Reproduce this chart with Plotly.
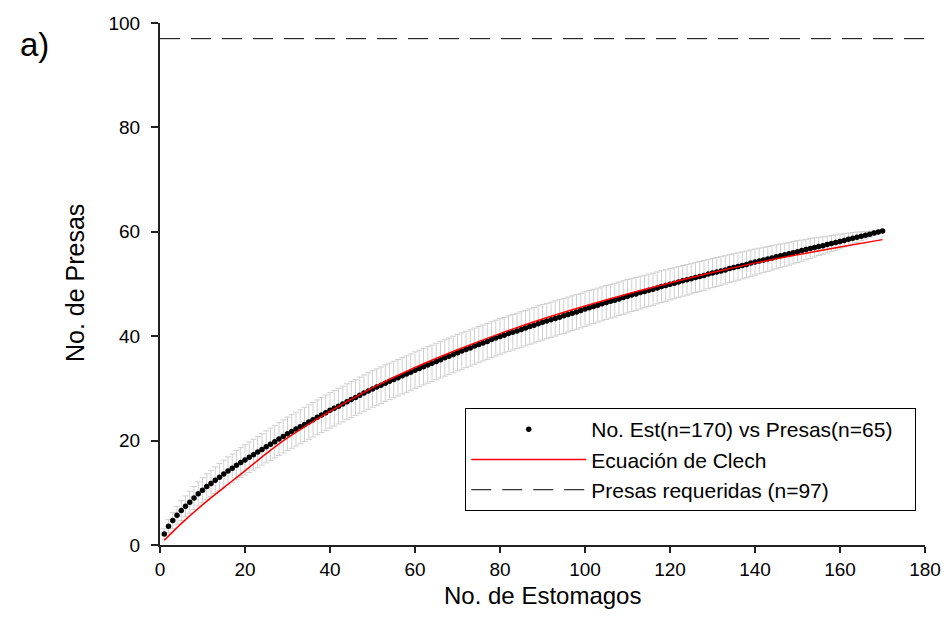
import plotly.graph_objects as go

# --- data ---
estomagos = list(range(1, 171))
presas_obs = [
    2.1, 3.6, 4.7, 5.7, 6.6, 7.4, 8.2, 9.0, 9.8, 10.5,
    11.2, 11.8, 12.4, 13.0, 13.6, 14.2, 14.7, 15.3, 15.8, 16.3,
    16.8, 17.3, 17.8, 18.3, 18.8, 19.3, 19.8, 20.3, 20.8, 21.3,
    21.75, 22.2, 22.65, 23.1, 23.55, 24.0, 24.45, 24.9, 25.35, 25.8,
    26.2, 26.6, 27.0, 27.45, 27.85, 28.25, 28.7, 29.1, 29.5, 29.9,
    30.25, 30.6, 31.0, 31.35, 31.7, 32.05, 32.4, 32.75, 33.1, 33.5,
    33.8, 34.15, 34.5, 34.8, 35.15, 35.5, 35.85, 36.15, 36.5, 36.85,
    37.15, 37.45, 37.75, 38.1, 38.4, 38.7, 39.0, 39.35, 39.65, 39.95,
    40.2, 40.5, 40.75, 41.0, 41.3, 41.55, 41.85, 42.1, 42.4, 42.65,
    42.9, 43.15, 43.4, 43.65, 43.9, 44.15, 44.4, 44.65, 44.9, 45.2,
    45.45, 45.7, 45.95, 46.2, 46.45, 46.7, 46.9, 47.15, 47.4, 47.65,
    47.9, 48.1, 48.35, 48.55, 48.8, 49.0, 49.25, 49.5, 49.7, 49.95,
    50.15, 50.4, 50.6, 50.8, 51.0, 51.25, 51.45, 51.65, 51.9, 52.1,
    52.3, 52.5, 52.7, 52.95, 53.15, 53.35, 53.55, 53.75, 54.0, 54.2,
    54.4, 54.6, 54.8, 55.0, 55.2, 55.4, 55.6, 55.8, 56.0, 56.2,
    56.4, 56.6, 56.8, 57.0, 57.2, 57.35, 57.55, 57.75, 57.95, 58.15,
    58.35, 58.55, 58.75, 58.95, 59.15, 59.35, 59.55, 59.75, 59.95, 60.15,
]
presas_err = [
    1.0, 1.3, 1.5, 1.7, 1.9, 2.0, 2.1, 2.2, 2.3, 2.4,
    2.45, 2.5, 2.55, 2.6, 2.65, 2.7, 2.75, 2.8, 2.85, 2.9,
    2.93, 2.96, 3.0, 3.03, 3.06, 3.1, 3.12, 3.15, 3.18, 3.2,
    3.22, 3.24, 3.26, 3.28, 3.3, 3.32, 3.34, 3.36, 3.38, 3.4,
    3.41, 3.42, 3.43, 3.44, 3.45, 3.46, 3.47, 3.48, 3.49, 3.5,
    3.5, 3.5, 3.5, 3.5, 3.5, 3.5, 3.5, 3.5, 3.5, 3.5,
    3.5, 3.5, 3.5, 3.5, 3.5, 3.5, 3.5, 3.5, 3.5, 3.5,
    3.5, 3.49, 3.48, 3.47, 3.46, 3.45, 3.44, 3.43, 3.42, 3.4,
    3.4, 3.4, 3.4, 3.4, 3.4, 3.4, 3.4, 3.4, 3.4, 3.4,
    3.39, 3.38, 3.37, 3.36, 3.35, 3.34, 3.33, 3.32, 3.31, 3.3,
    3.29, 3.28, 3.27, 3.26, 3.25, 3.24, 3.23, 3.22, 3.21, 3.2,
    3.18, 3.16, 3.14, 3.12, 3.1, 3.08, 3.06, 3.04, 3.02, 3.0,
    2.98, 2.96, 2.94, 2.92, 2.9, 2.88, 2.86, 2.84, 2.82, 2.8,
    2.77, 2.74, 2.71, 2.68, 2.65, 2.62, 2.59, 2.56, 2.53, 2.5,
    2.46, 2.42, 2.38, 2.34, 2.3, 2.26, 2.22, 2.18, 2.14, 2.1,
    2.03, 1.96, 1.89, 1.82, 1.75, 1.68, 1.61, 1.54, 1.47, 1.4,
    1.3, 1.2, 1.1, 1.0, 0.85, 0.7, 0.55, 0.4, 0.2, 0.0,
]
clench_x = [1, 5, 10, 15, 20, 25, 30, 40, 50, 60, 70, 80, 90, 100, 110, 120, 130, 140, 150, 160, 170]
clench_y = [0.9, 4.1, 7.7, 11.0, 14.2, 17.5, 20.5, 25.6, 30.1, 34.0, 37.4, 40.5, 43.3, 45.8,
            48.1, 50.2, 52.2, 54.0, 55.6, 57.1, 58.5]
requeridas_x = [0, 180]
requeridas_y = [97, 97]

x_ticks = [0, 20, 40, 60, 80, 100, 120, 140, 160, 180]
y_ticks = [0, 20, 40, 60, 80, 100]

FONT = "Arial, Liberation Sans, sans-serif"
PAD = "\u00a0" * 3

fig = go.Figure()

fig.add_trace(go.Scatter(
    x=estomagos, y=presas_obs, mode="markers",
    name="No. Est(n=170) vs Presas(n=65)" + PAD,
    marker=dict(color="black", size=5.5),
    error_y=dict(type="data", array=presas_err, visible=True,
                 color="#cfcfcf", thickness=1, width=3),
))
fig.add_trace(go.Scatter(
    x=clench_x, y=clench_y, mode="lines", line_shape="spline",
    name="Ecuación de Clech",
    line=dict(color="#ff0000", width=1.5),
))
fig.add_trace(go.Scatter(
    x=requeridas_x, y=requeridas_y, mode="lines",
    name="Presas requeridas (n=97)",
    line=dict(color="black", width=1, dash="20px,11px"),
))

fig.update_layout(
    width=946, height=631,
    margin=dict(l=160, r=21, t=23, b=86, autoexpand=False),
    paper_bgcolor="white", plot_bgcolor="white",
    font=dict(family=FONT, color="black", size=19),
    showlegend=True,
    legend=dict(
        x=0.399, y=0.2625, xanchor="left", yanchor="top",
        bordercolor="black", borderwidth=1, bgcolor="white",
        font=dict(size=21, family=FONT),
        itemwidth=115, itemsizing="trace",
    ),
    xaxis=dict(
        range=[0, 180], tickvals=x_ticks, ticktext=[str(v) for v in x_ticks],
        showline=True, linecolor="#222", linewidth=2, mirror=False,
        ticks="outside", ticklen=6, tickwidth=1.5, tickcolor="#222",
        showgrid=False, zeroline=False, tickfont=dict(size=19),
        automargin=False,
    ),
    yaxis=dict(
        range=[0, 100], tickvals=y_ticks, ticktext=[str(v) for v in y_ticks],
        showline=True, linecolor="#222", linewidth=2, mirror=False,
        ticks="outside", ticklen=7, tickwidth=1.5, tickcolor="#222",
        showgrid=False, zeroline=False, tickfont=dict(size=19),
        automargin=False, ticklabelstandoff=7,
    ),
    annotations=[
        dict(text="No. de Estomagos", x=0.5, y=-0.097, xref="paper", yref="paper",
             xanchor="center", yanchor="middle", showarrow=False, font=dict(size=24)),
        dict(text="No. de Presas", x=-0.111, y=0.502, xref="paper", yref="paper",
             xanchor="center", yanchor="middle", showarrow=False, textangle=-90,
             font=dict(size=25)),
        dict(text="a)", x=-0.1856, y=0.958, xref="paper", yref="paper",
             xanchor="left", yanchor="middle", showarrow=False, font=dict(size=33)),
    ],
)

fig.write_html("out.html")
